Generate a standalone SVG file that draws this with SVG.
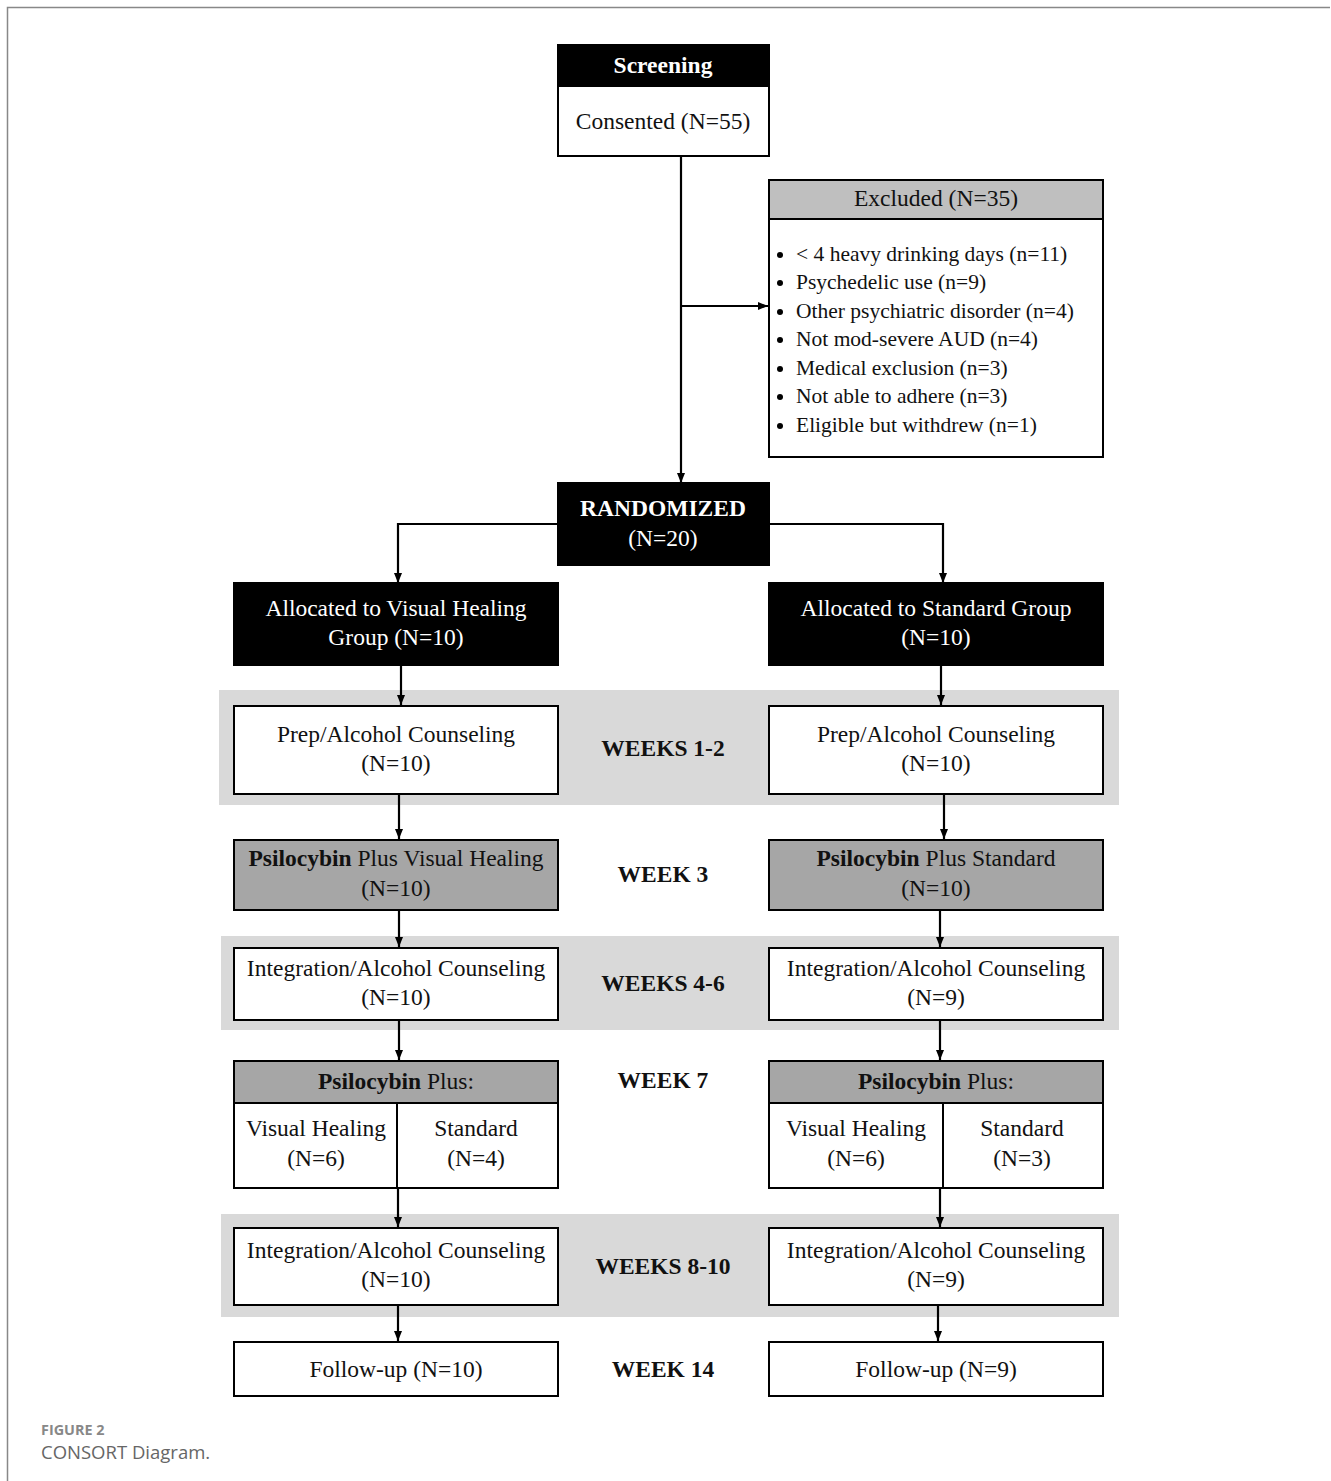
<svg xmlns="http://www.w3.org/2000/svg" width="1331" height="1481" viewBox="0 0 1331 1481">
<defs>
<marker id="ah" markerWidth="10" markerHeight="10" viewBox="0 0 10 10" refX="10" refY="5" orient="auto" markerUnits="userSpaceOnUse">
<path d="M0,1 L10,5 L0,9 Z" fill="#000"/>
</marker>
</defs>
<style>
.t{font-family:"Liberation Serif","Times New Roman",serif;font-size:23.5px;fill:#111;text-anchor:middle}
.w{fill:#fff}
.b{font-weight:bold}
.l{font-family:"Liberation Serif","Times New Roman",serif;font-size:21.5px;fill:#111}
.box{stroke:#000;stroke-width:2}
.band{fill:#d9d9d9}
.conn path{fill:none;stroke:#000;stroke-width:2.2;marker-end:url(#ah)}
.wk{font-family:"Liberation Serif","Times New Roman",serif;font-size:23.5px;font-weight:bold;fill:#111;text-anchor:middle}
</style>
<rect width="1331" height="1481" fill="#fff"/>
<path d="M7.5,1481 V7.5 H1330" fill="none" stroke="#888" stroke-width="1.5"/>

<g id="bands">
<rect class="band" x="219" y="690" width="900" height="115"/>
<rect class="band" x="221" y="936" width="898" height="94"/>
<rect class="band" x="221" y="1214" width="898" height="103"/>
</g>

<g id="screening">
<rect class="box" x="558" y="45" width="211" height="41" fill="#000"/>
<rect class="box" x="558" y="86" width="211" height="70" fill="#fff"/>
<text class="t w b" x="663" y="73">Screening</text>
<text class="t" x="663" y="129">Consented (N=55)</text>
</g>

<g id="excluded">
<rect class="box" x="769" y="180" width="334" height="39" fill="#bfbfbf"/>
<rect class="box" x="769" y="219" width="334" height="238" fill="#fff"/>
<text class="t" x="936" y="206">Excluded (N=35)</text>
<g class="l">
<circle cx="780" cy="255" r="3" fill="#000"/><text x="796" y="261">&lt; 4 heavy drinking days (n=11)</text>
<circle cx="780" cy="283" r="3" fill="#000"/><text x="796" y="289">Psychedelic use (n=9)</text>
<circle cx="780" cy="312" r="3" fill="#000"/><text x="796" y="318">Other psychiatric disorder (n=4)</text>
<circle cx="780" cy="340" r="3" fill="#000"/><text x="796" y="346">Not mod-severe AUD (n=4)</text>
<circle cx="780" cy="369" r="3" fill="#000"/><text x="796" y="375">Medical exclusion (n=3)</text>
<circle cx="780" cy="397" r="3" fill="#000"/><text x="796" y="403">Not able to adhere (n=3)</text>
<circle cx="780" cy="426" r="3" fill="#000"/><text x="796" y="432">Eligible but withdrew (n=1)</text>
</g>
</g>

<g id="randomized">
<rect class="box" x="558" y="483" width="211" height="82" fill="#000"/>
<text class="t w b" x="663" y="516">RANDOMIZED</text>
<text class="t w" x="663" y="546">(N=20)</text>
</g>

<g id="alloc-vh">
<rect class="box" x="234" y="583" width="324" height="82" fill="#000"/>
<text class="t w" x="396" y="616">Allocated to Visual Healing</text>
<text class="t w" x="396" y="645">Group (N=10)</text>
</g>
<g id="alloc-std">
<rect class="box" x="769" y="583" width="334" height="82" fill="#000"/>
<text class="t w" x="936" y="616">Allocated to Standard Group</text>
<text class="t w" x="936" y="645">(N=10)</text>
</g>

<g id="prep-vh">
<rect class="box" x="234" y="706" width="324" height="88" fill="#fff"/>
<text class="t" x="396" y="742">Prep/Alcohol Counseling</text>
<text class="t" x="396" y="771">(N=10)</text>
</g>
<g id="prep-std">
<rect class="box" x="769" y="706" width="334" height="88" fill="#fff"/>
<text class="t" x="936" y="742">Prep/Alcohol Counseling</text>
<text class="t" x="936" y="771">(N=10)</text>
</g>

<g id="psi-vh">
<rect class="box" x="234" y="840" width="324" height="70" fill="#a6a6a6"/>
<text class="t" x="396" y="866"><tspan class="b">Psilocybin</tspan> Plus Visual Healing</text>
<text class="t" x="396" y="896">(N=10)</text>
</g>
<g id="psi-std">
<rect class="box" x="769" y="840" width="334" height="70" fill="#a6a6a6"/>
<text class="t" x="936" y="866"><tspan class="b">Psilocybin</tspan> Plus Standard</text>
<text class="t" x="936" y="896">(N=10)</text>
</g>

<g id="int1-vh">
<rect class="box" x="234" y="948" width="324" height="72" fill="#fff"/>
<text class="t" x="396" y="976">Integration/Alcohol Counseling</text>
<text class="t" x="396" y="1005">(N=10)</text>
</g>
<g id="int1-std">
<rect class="box" x="769" y="948" width="334" height="72" fill="#fff"/>
<text class="t" x="936" y="976">Integration/Alcohol Counseling</text>
<text class="t" x="936" y="1005">(N=9)</text>
</g>

<g id="psi2-vh">
<rect class="box" x="234" y="1061" width="324" height="42" fill="#a6a6a6"/>
<rect class="box" x="234" y="1103" width="324" height="85" fill="#fff"/>
<line x1="397" y1="1103" x2="397" y2="1188" stroke="#000" stroke-width="2"/>
<text class="t" x="396" y="1089"><tspan class="b">Psilocybin</tspan> Plus:</text>
<text class="t" x="316" y="1136">Visual Healing</text>
<text class="t" x="316" y="1166">(N=6)</text>
<text class="t" x="476" y="1136">Standard</text>
<text class="t" x="476" y="1166">(N=4)</text>
</g>
<g id="psi2-std">
<rect class="box" x="769" y="1061" width="334" height="42" fill="#a6a6a6"/>
<rect class="box" x="769" y="1103" width="334" height="85" fill="#fff"/>
<line x1="943" y1="1103" x2="943" y2="1188" stroke="#000" stroke-width="2"/>
<text class="t" x="936" y="1089"><tspan class="b">Psilocybin</tspan> Plus:</text>
<text class="t" x="856" y="1136">Visual Healing</text>
<text class="t" x="856" y="1166">(N=6)</text>
<text class="t" x="1022" y="1136">Standard</text>
<text class="t" x="1022" y="1166">(N=3)</text>
</g>

<g id="int2-vh">
<rect class="box" x="234" y="1228" width="324" height="77" fill="#fff"/>
<text class="t" x="396" y="1258">Integration/Alcohol Counseling</text>
<text class="t" x="396" y="1287">(N=10)</text>
</g>
<g id="int2-std">
<rect class="box" x="769" y="1228" width="334" height="77" fill="#fff"/>
<text class="t" x="936" y="1258">Integration/Alcohol Counseling</text>
<text class="t" x="936" y="1287">(N=9)</text>
</g>

<g id="fu-vh">
<rect class="box" x="234" y="1342" width="324" height="54" fill="#fff"/>
<text class="t" x="396" y="1377">Follow-up (N=10)</text>
</g>
<g id="fu-std">
<rect class="box" x="769" y="1342" width="334" height="54" fill="#fff"/>
<text class="t" x="936" y="1377">Follow-up (N=9)</text>
</g>

<g id="weeks">
<text class="wk" x="663" y="756">WEEKS 1-2</text>
<text class="wk" x="663" y="882">WEEK 3</text>
<text class="wk" x="663" y="991">WEEKS 4-6</text>
<text class="wk" x="663" y="1088">WEEK 7</text>
<text class="wk" x="663" y="1274">WEEKS 8-10</text>
<text class="wk" x="663" y="1377">WEEK 14</text>
</g>

<g id="connectors" class="conn">
<path d="M681,156 V483"/>
<path d="M681,306 H768"/>
<path d="M558,524 H398 V583"/>
<path d="M769,524 H943 V583"/>
<path d="M401,665 V705"/>
<path d="M941,665 V705"/>
<path d="M399,794 V839"/>
<path d="M944,794 V839"/>
<path d="M399,910 V947"/>
<path d="M940,910 V947"/>
<path d="M399,1020 V1060"/>
<path d="M940,1020 V1060"/>
<path d="M398,1188 V1227"/>
<path d="M940,1188 V1227"/>
<path d="M398,1305 V1341"/>
<path d="M938,1305 V1341"/>
</g>

<g id="caption">
<text x="41" y="1435" font-family="'Open Sans',sans-serif" font-size="14.4" font-weight="bold" fill="#888">FIGURE 2</text>
<text x="41" y="1459" font-family="'Open Sans',sans-serif" font-size="18.5" fill="#666">CONSORT Diagram.</text>
</g>
</svg>
